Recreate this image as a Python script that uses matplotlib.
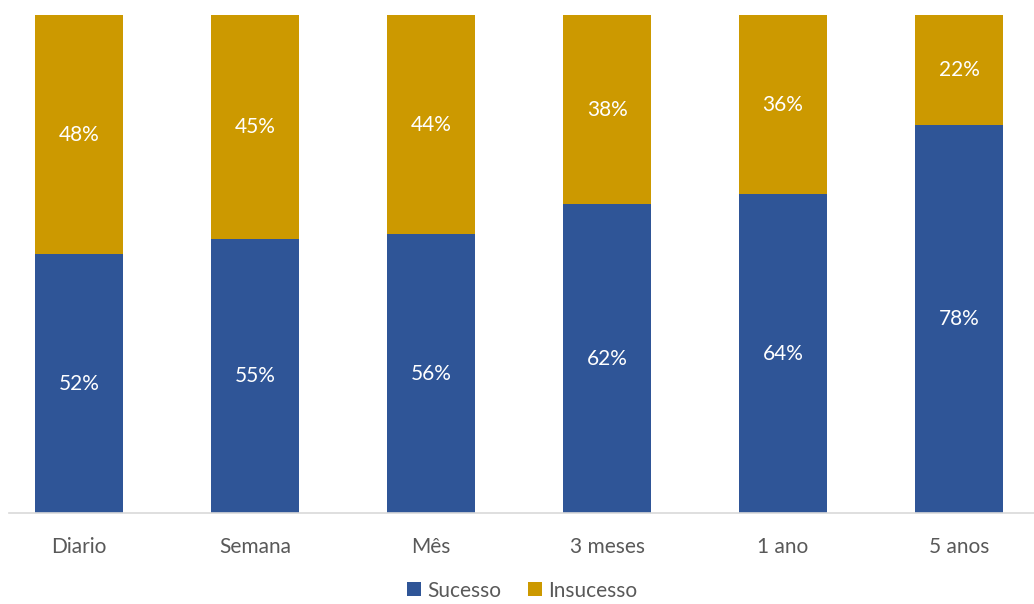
import matplotlib
matplotlib.use('Agg')
import matplotlib.pyplot as plt
import numpy as np

plt.rcParams['font.family'] = ['Lato', 'DejaVu Sans']

categorias = ["Diario", "Semana", "Mês", "3 meses", "1 ano", "5 anos"]
sucesso = [52, 55, 56, 62, 64, 78]
insucesso = [48, 45, 44, 38, 36, 22]

azul = "#2F5597"
dourado = "#CC9900"

fig = plt.figure(figsize=(10.34, 6.04), dpi=100)
ax = fig.add_axes([9 / 1034, 91 / 604, 1025 / 1034, 498 / 604])

x = np.arange(len(categorias))
b1 = ax.bar(x, sucesso, width=0.5, color=azul, label="Sucesso")
b2 = ax.bar(x, insucesso, width=0.5, bottom=sucesso, color=dourado, label="Insucesso")

# rótulos de percentagem no centro de cada segmento
for barras, valores in ((b1, sucesso), (b2, insucesso)):
    for r, v in zip(barras, valores):
        ax.text(r.get_x() + r.get_width() / 2, r.get_y() + r.get_height() / 2,
                f"{v}%", ha="center", va="center", color="white", fontsize=15)

ax.set_xlim(-0.398, 5.426)
ax.set_ylim(0, 100)
ax.set_xticks(x)
ax.set_xticklabels(categorias, fontsize=15, color="#595959")
ax.tick_params(axis="x", length=0, pad=17)
ax.set_yticks([])
for s in ("top", "right", "left"):
    ax.spines[s].set_visible(False)
ax.spines["bottom"].set_color("#D9D9D9")
ax.spines["bottom"].set_linewidth(1.2)

fig.legend(loc="center", bbox_to_anchor=(0.505, 0.022), ncol=2, frameon=False,
           fontsize=15, labelcolor="#595959", handlelength=0.65, handleheight=0.65,
           handletextpad=0.3, columnspacing=1.3, borderpad=0.2)

fig.savefig("out.png", dpi=100)
